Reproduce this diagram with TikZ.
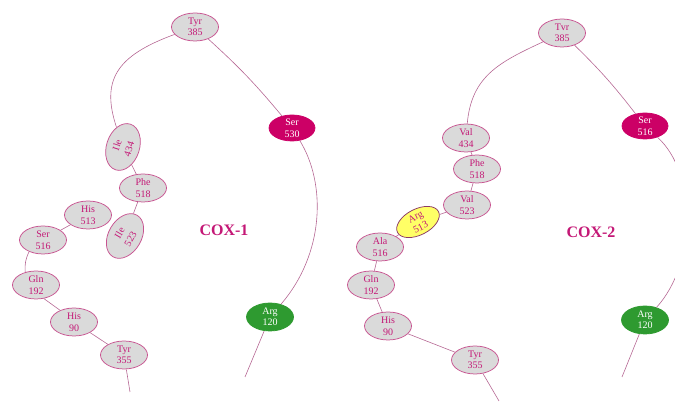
\documentclass[tikz,border=0pt]{standalone}
\usepackage{fontspec}
\setmainfont{Liberation Serif}
\usetikzlibrary{shapes.geometric}
\definecolor{respink}{RGB}{196,24,118}
\definecolor{rimpink}{RGB}{200,84,145}
\definecolor{chainmauve}{RGB}{182,104,148}
\definecolor{resgray}{RGB}{218,218,218}
\definecolor{sermagenta}{RGB}{204,0,102}
\definecolor{arggreen}{RGB}{46,154,48}
\definecolor{argyellow}{RGB}{255,255,102}

\begin{document}
\begin{tikzpicture}[x=1pt, y=1pt,
    res/.style={ellipse, draw=rimpink, line width=0.75pt, fill=resgray, text=respink,
                inner sep=0pt, minimum width=47pt, minimum height=28pt, align=center,
                font=\fontsize{10}{11.5}\selectfont},
    tilted/.style={res, minimum width=48pt, minimum height=33pt,
                   font=\fontsize{10}{12.5}\selectfont},
    catalytic/.style={res, draw=sermagenta, fill=sermagenta, text=white,
                      minimum width=46pt, minimum height=26pt},
    gate/.style={res, draw=arggreen, fill=arggreen, text=white},
    pocket/.style={res, draw=rimpink!70!black, fill=argyellow,
                   minimum width=46pt, minimum height=26pt},
    link/.style={draw=chainmauve, line width=0.6pt},
    panel/.style={font=\fontsize{16}{18}\selectfont\bfseries, text=respink},
  ]
    \clip (0,0) rectangle (675,403);

    % COX-1 channel
    \node[res]    (tyrA) at (195,376) {Tyr\\385};
    \node[catalytic] (serA) at (292,275) {Ser\\530};
    \node[tilted, rotate=72] (ileA) at (123,256) {Ile\\434};
    \node[res]    (pheA) at (143,215) {Phe\\518};
    \node[res]    (hisA) at (88,188) {His\\513};
    \node[tilted, rotate=60] (ileB) at (125,167) {Ile\\523};
    \node[res]    (serB) at (43,163) {Ser\\516};
    \node[res]    (glnA) at (36,118) {Gln\\192};
    \node[res]    (hisC) at (74,81) {His\\90};
    \node[res]    (tyrB) at (124,48) {Tyr\\355};
    \node[gate]   (argA) at (270,86) {Arg\\120};
    \node[panel]  (coxA) at (224,173) {COX-1};
    \coordinate (endA) at (130,11);
    \coordinate (endB) at (245,26);

    \draw[link] (tyrA) to[out=200, in=95, looseness=1.25] (ileA);
    \draw[link] (tyrA) to[bend left=4] (serA);
    \draw[link] (serA) .. controls (326,220) and (325,150) .. (argA);
    \draw[link] (argA) -- (endB);
    \draw[link] (ileA) -- (pheA);
    \draw[link] (pheA) -- (ileB);
    \draw[link] (hisA) -- (serB);
    \draw[link] (serB.220) to[bend right=15] (glnA.130);
    \draw[link] (glnA.300) -- (hisC.140);
    \draw[link] (hisC) -- (tyrB);
    \draw[link] (tyrB) -- (endA);

    % COX-2 channel
    \node[res]    (tyrC) at (562,370) {Tvr\\385};
    \node[catalytic] (serC) at (645,277) {Ser\\516};
    \node[res]    (valA) at (466,265) {Val\\434};
    \node[res]    (pheB) at (477,234) {Phe\\518};
    \node[res]    (valB) at (467,198) {Val\\523};
    \node[pocket, rotate=27] (argB) at (418,181) {Arg\\513};
    \node[res]    (alaA) at (380,156) {Ala\\516};
    \node[res]    (glnB) at (371,118) {Gln\\192};
    \node[res]    (hisD) at (388,77) {His\\90};
    \node[res]    (tyrD) at (475,43) {Tyr\\355};
    \node[gate]   (argC) at (645,83) {Arg\\120};
    \node[panel]  (coxB) at (591,171) {COX-2};
    \coordinate (endC) at (499,2);
    \coordinate (endD) at (622,26);

    \draw[link] (tyrC) to[out=205, in=85, looseness=1.1] (valA);
    \draw[link] (tyrC) to[bend left=4] (serC);
    \draw[link] (serC) .. controls (697,230) and (697,140) .. (argC);
    \draw[link] (argC) -- (endD);
    \draw[link] (valA) -- (pheB);
    \draw[link] (pheB) -- (valB);
    \draw[link] (valB) -- (argB);
    \draw[link] (argB) -- (alaA);
    \draw[link] (alaA) -- (glnB);
    \draw[link] (glnB) -- (hisD);
    \draw[link] (hisD) -- (tyrD);
    \draw[link] (tyrD) -- (endC);
\end{tikzpicture}
\end{document}
